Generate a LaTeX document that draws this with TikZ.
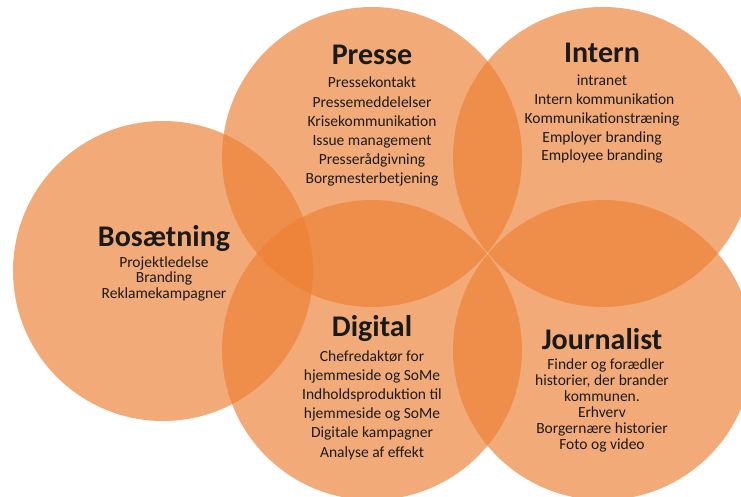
\documentclass[tikz,border=0pt]{standalone}
\usepackage{fontspec}
\setmainfont{Carlito}
\definecolor{petalorange}{HTML}{ED7D31}
\definecolor{txt}{HTML}{1A1A1A}
\begin{document}
\begin{tikzpicture}[x=1pt,y=-1pt,
  petal/.style={fill=petalorange,fill opacity=0.65},
  ttl/.style={anchor=base,inner sep=0pt,text=txt,font=\fontsize{30}{36}\selectfont\bfseries},
  bodyA/.style={anchor=base,inner sep=0pt,align=center,text=txt,font=\fontsize{15.5}{19.2}\selectfont},
  bodyB/.style={anchor=base,inner sep=0pt,align=center,text=txt,font=\fontsize{15.5}{15.8}\selectfont}]
\useasboundingbox (0,0) rectangle (741,497);
\begin{scope}
\clip (0,0) rectangle (741,497);
\fill[petal] (372,157) circle[radius=150pt];
\fill[petal] (603,157) circle[radius=150pt];
\fill[petal] (163,271) circle[radius=150pt];
\fill[petal] (372,350) circle[radius=150pt];
\fill[petal] (603,350) circle[radius=150pt];
\end{scope}
% Presse (anchor = baseline of last line)
\node[ttl] (presseT) at (372,65) {Presse};
\node[bodyA] (presseB) at (372,184) {Pressekontakt\\Pressemeddelelser\\Krisekommunikation\\Issue management\\Presserådgivning\\Borgmesterbetjening};
% Intern
\node[ttl] (internT) at (602,63) {Intern};
\node[bodyA,font=\fontsize{15.5}{18.8}\selectfont] (internB) at (602,161) {intranet\\\hspace*{0.3em}Intern kommunikation\\Kommunikationstræning\\Employer branding\\Employee branding};
% Bosætning
\node[ttl] (bosT) at (164,246) {Bosætning};
\node[bodyB] (bosB) at (164,298.6) {Projektledelse\\Branding\\Reklamekampagner};
% Digital
\node[ttl] (digT) at (372,336) {Digital};
\node[bodyA] (digB) at (372,457) {Chefredaktør for\\hjemmeside og SoMe\\Indholdsproduktion til\\hjemmeside og SoMe\\Digitale kampagner\\Analyse af effekt};
% Journalist
\node[ttl] (jourT) at (602,349) {Journalist};
\node[bodyB,font=\fontsize{15.5}{16}\selectfont] (jourB) at (602,449) {\hspace*{0.5em}Finder og forædler\\historier, der brander\\kommunen.\\Erhverv\\Borgernære historier\\Foto og video};
\end{tikzpicture}
\end{document}
